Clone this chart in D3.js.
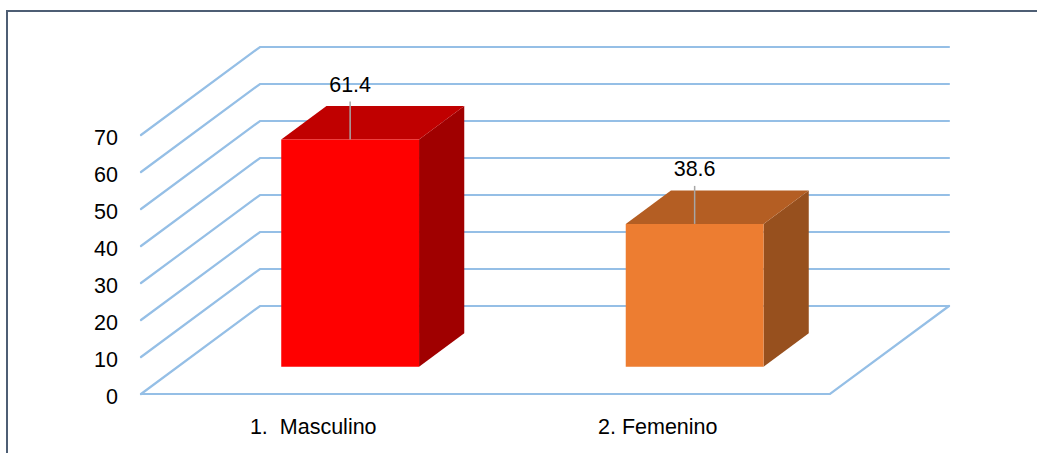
<!DOCTYPE html>
<html>
<head>
<meta charset="utf-8">
<script src="https://cdn.jsdelivr.net/npm/d3@7"></script>
<style>
  html, body { margin: 0; padding: 0; background: #fff; }
  svg { display: block; }
  text { font-family: "Liberation Sans", Arial, sans-serif; fill: #000; white-space: pre; }
</style>
</head>
<body>
<svg id="chart" width="1037" height="453"></svg>
<script>
// Data
const categories = ["1.  Masculino", "2. Femenino"];
const values = [61.4, 38.6];
const yTicks = [0, 10, 20, 30, 40, 50, 60, 70];
const frontColors = ["#ff0000", "#ed7d31"];
const topColors = ["#c00000", "#b45e23"];
const sideColors = ["#a00000", "#97501e"];

const svg = d3.select("#chart");

// Frame around the chart area (open to the right and bottom)
svg.append("rect")
  .attr("x", 7).attr("y", 11)
  .attr("width", 1060).attr("height", 480)
  .attr("fill", "none")
  .attr("stroke", "#4e5e74")
  .attr("stroke-width", 2);

// Oblique 3D projection: floor front edge at y0, depth shifts by (dx, dy)
const floorLeft = 141, floorRight = 830, y0 = 394;
const depthDX = 119, depthDY = -88;

const x = d3.scaleBand().domain(categories).range([floorLeft, floorRight]).padding(0);
const y = d3.scaleLinear().domain([0, 70]).range([0, 259]);

// project (screen x at front, value, depth fraction t)
const P = (px, v, t) => [px + depthDX * t, y0 - y(v) + depthDY * t];

const gridColor = "#95bfe6";
const grid = svg.append("g").attr("fill", "none")
  .attr("stroke", gridColor).attr("stroke-width", 2.2).attr("stroke-linecap", "round");

const line = d3.line();

// Side wall diagonals and back wall gridlines
yTicks.forEach(v => {
  const a = P(floorLeft, v, 0), b = P(floorLeft, v, 1), c = P(floorRight, v, 1);
  grid.append("path").attr("d", line([a, b, c]));
});
// Floor outline
grid.append("path").attr("d", line([
  P(floorLeft, 0, 0), P(floorRight, 0, 0), P(floorRight, 0, 1)
]));

const fontSize = 21.5;

// Axis tick labels
svg.append("g").selectAll("text").data(yTicks).join("text")
  .attr("x", 118)
  .attr("y", d => P(floorLeft, d, 0)[1])
  .attr("dy", "0.45em")
  .attr("text-anchor", "end")
  .attr("font-size", fontSize)
  .text(d => d);

// Category labels
svg.append("g").selectAll("text").data(categories).join("text")
  .attr("x", d => x(d) + x.bandwidth() / 2)
  .attr("y", 434)
  .attr("text-anchor", "middle")
  .attr("font-size", fontSize)
  .text(d => d);

// 3D bars
const t0 = 0.31, t1 = 0.69;
const barW = x.bandwidth() * 0.4;
const bars = svg.append("g");
categories.forEach((cat, i) => {
  const v = values[i];
  const xl = x(cat) + (x.bandwidth() - barW) / 2;
  const xr = xl + barW;
  const g = bars.append("g");
  // right side face
  g.append("path").attr("fill", sideColors[i]).attr("d", line([
    P(xr, 0, t0), P(xr, 0, t1), P(xr, v, t1), P(xr, v, t0)
  ]) + "Z");
  // top face
  g.append("path").attr("fill", topColors[i]).attr("d", line([
    P(xl, v, t0), P(xl, v, t1), P(xr, v, t1), P(xr, v, t0)
  ]) + "Z");
  // front face
  g.append("path").attr("fill", frontColors[i]).attr("d", line([
    P(xl, 0, t0), P(xr, 0, t0), P(xr, v, t0), P(xl, v, t0)
  ]) + "Z");

  // value label with leader line
  const cx = (xl + xr) / 2;
  const front = P(cx, v, t0);
  g.append("line")
    .attr("x1", front[0]).attr("y1", front[1])
    .attr("x2", front[0]).attr("y2", front[1] - 38)
    .attr("stroke", "#a6a6a6").attr("stroke-width", 1.5);
  g.append("text")
    .attr("x", front[0])
    .attr("y", front[1] - 48)
    .attr("text-anchor", "middle")
    .attr("font-size", fontSize)
    .text(v.toFixed(1));
});
</script>
</body>
</html>
